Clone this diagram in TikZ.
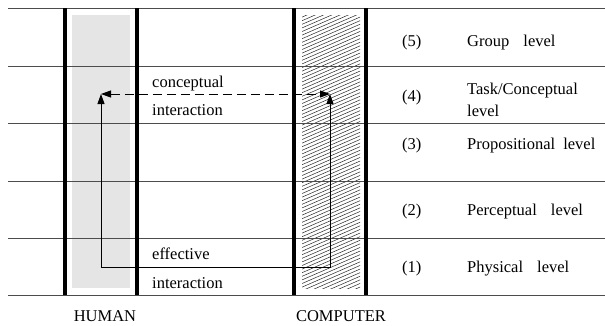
\documentclass[tikz,border=0pt]{standalone}
\usepackage{fontspec}
\setmainfont{Liberation Serif}
\usetikzlibrary{arrows.meta}
\begin{document}
\begin{tikzpicture}[x=1pt,y=-1pt,
  hline/.style={draw=black!70,line width=1pt},
  vline/.style={draw=black,line width=3.6pt},
  conn/.style={draw=black,line width=0.9pt,{Triangle[length=10pt,width=7pt]}-{Triangle[length=10pt,width=7pt]}},
  lbl/.style={anchor=base west,inner sep=0pt,font=\fontsize{16.5}{21}\selectfont},
  clbl/.style={anchor=base,inner sep=0pt,font=\fontsize{16.5}{21}\selectfont}]
\useasboundingbox (0,0) rectangle (605,325);
% human column
\fill[black!10] (72,15) rectangle (130,288);
% computer column hatch
\begin{scope}
\clip (302,15) rectangle (360,288);
\foreach \k in {0,...,95}{
  \draw[black!85,line width=0.5pt] (300,{\k*3.6}) -- (362,{\k*3.6-27});
}
\end{scope}
% level lines
\foreach \yy in {8,66,123,181,238,295}{
  \draw[hline] (8,\yy) -- (605,\yy);
}
% thick verticals
\foreach \xx in {65,137,294,366}{
  \draw[vline] (\xx,8) -- (\xx,295);
}
% connectors
\coordinate (hTop) at (101,94);
\coordinate (hBot) at (101,267);
\coordinate (cBot) at (330,267);
\coordinate (cTop) at (330,94);
\draw[conn] (hTop) -- (hBot) -- (cBot) -- (cTop);
\draw[conn,dash pattern=on 9pt off 5pt] (hTop) -- (cTop);
% interaction labels
\node[lbl] (ci1) at (152,87.5) {conceptual};
\node[lbl] (ci2) at (152,115) {interaction};
\node[lbl] (ei1) at (152,259) {effective};
\node[lbl] (ei2) at (152,288) {interaction};
% level labels
\node[lbl] (n5) at (402,46) {(5)};
\node[lbl] (n4) at (402,101) {(4)};
\node[lbl] (n3) at (402,149) {(3)};
\node[lbl] (n2) at (402,215) {(2)};
\node[lbl] (n1) at (402,272) {(1)};
\node[lbl] (l5) at (467,46) {Group\hspace{10pt} level};
\node[lbl] (l4a) at (467,94) {Task/Conceptual};
\node[lbl] (l4b) at (467,116) {level};
\node[lbl] (l3) at (467,149) {Propositional\hspace{4pt} level};
\node[lbl] (l2) at (467,215) {Perceptual\hspace{10pt} level};
\node[lbl] (l1) at (467,272) {Physical\hspace{10pt} level};
% column labels
\node[clbl] (human) at (105,321) {HUMAN};
\node[clbl] (comp) at (341,321) {COMPUTER};
\end{tikzpicture}
\end{document}
